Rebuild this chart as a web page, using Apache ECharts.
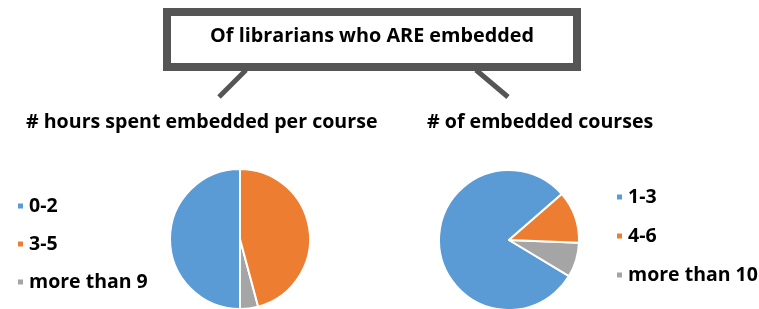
<!DOCTYPE html>
<html>
<head>
<meta charset="utf-8">
<script src="https://cdn.jsdelivr.net/npm/echarts@6/dist/echarts.min.js"></script>
<style>html,body{margin:0;padding:0;background:#fff}#c{width:759px;height:309px}</style>
</head>
<body>
<div id="c"></div>
<script>
var mainTitle = 'Of librarians who ARE embedded';
var hoursTitle = '# hours spent embedded per course';
var hoursCats = ['0-2', '3-5', 'more than 9'];
var hoursVals = [12, 11, 1];
var coursesTitle = '# of embedded courses';
var coursesCats = ['1-3', '4-6', 'more than 10'];
var coursesVals = [20, 3, 2];
var colors = ['#5B9BD5', '#ED7D31', '#A5A5A5'];

var FONT = '"Open Sans"';
function pieData(cats, vals) {
  // drawing order counterclockwise: first, third, second
  var order = [0, 2, 1];
  return order.map(function (i) {
    return { name: cats[i], value: vals[i], itemStyle: { color: colors[i] } };
  });
}

var chart = echarts.init(document.getElementById('c'));
chart.setOption({
  animation: false,
  color: colors,
  graphic: [
    { type: 'rect', shape: { x: 167, y: 12, width: 410, height: 55 },
      style: { fill: '#fff', stroke: '#555555', lineWidth: 8 } },
    { type: 'line', shape: { x1: 246, y1: 70, x2: 219, y2: 97 },
      style: { stroke: '#555555', lineWidth: 5 } },
    { type: 'line', shape: { x1: 476, y1: 70, x2: 508, y2: 97 },
      style: { stroke: '#555555', lineWidth: 5 } },
    { type: 'text', x: 372, y: 36,
      style: { text: mainTitle, fill: '#000', font: 'bold 19.8px ' + FONT, textAlign: 'center', textVerticalAlign: 'middle' } },
    { type: 'text', x: 26, y: 122,
      style: { text: hoursTitle, fill: '#000', font: 'bold 19.6px ' + FONT, textAlign: 'left', textVerticalAlign: 'middle' } },
    { type: 'text', x: 427, y: 122,
      style: { text: coursesTitle, fill: '#000', font: 'bold 19.6px ' + FONT, textAlign: 'left', textVerticalAlign: 'middle' } }
  ],
  legend: [
    { data: hoursCats, orient: 'vertical', left: 11, top: 191, icon: 'rect',
      itemWidth: 7, itemHeight: 7, itemGap: 18,
      textStyle: { fontFamily: FONT, fontWeight: 'bold', fontSize: 19.5, color: '#000', lineHeight: 20 } },
    { data: coursesCats, orient: 'vertical', left: 610, top: 182, icon: 'rect',
      itemWidth: 7, itemHeight: 7, itemGap: 19,
      textStyle: { fontFamily: FONT, fontWeight: 'bold', fontSize: 19.5, color: '#000', lineHeight: 20 } }
  ],
  series: [
    { type: 'pie', center: [240, 239], radius: 70, clockwise: false, startAngle: 90,
      label: { show: false }, labelLine: { show: false },
      itemStyle: { borderColor: '#fff', borderWidth: 2 },
      data: pieData(hoursCats, hoursVals) },
    { type: 'pie', center: [509, 240], radius: 70, clockwise: false, startAngle: 41,
      label: { show: false }, labelLine: { show: false },
      itemStyle: { borderColor: '#fff', borderWidth: 2 },
      data: pieData(coursesCats, coursesVals) }
  ]
});
</script>
</body>
</html>
